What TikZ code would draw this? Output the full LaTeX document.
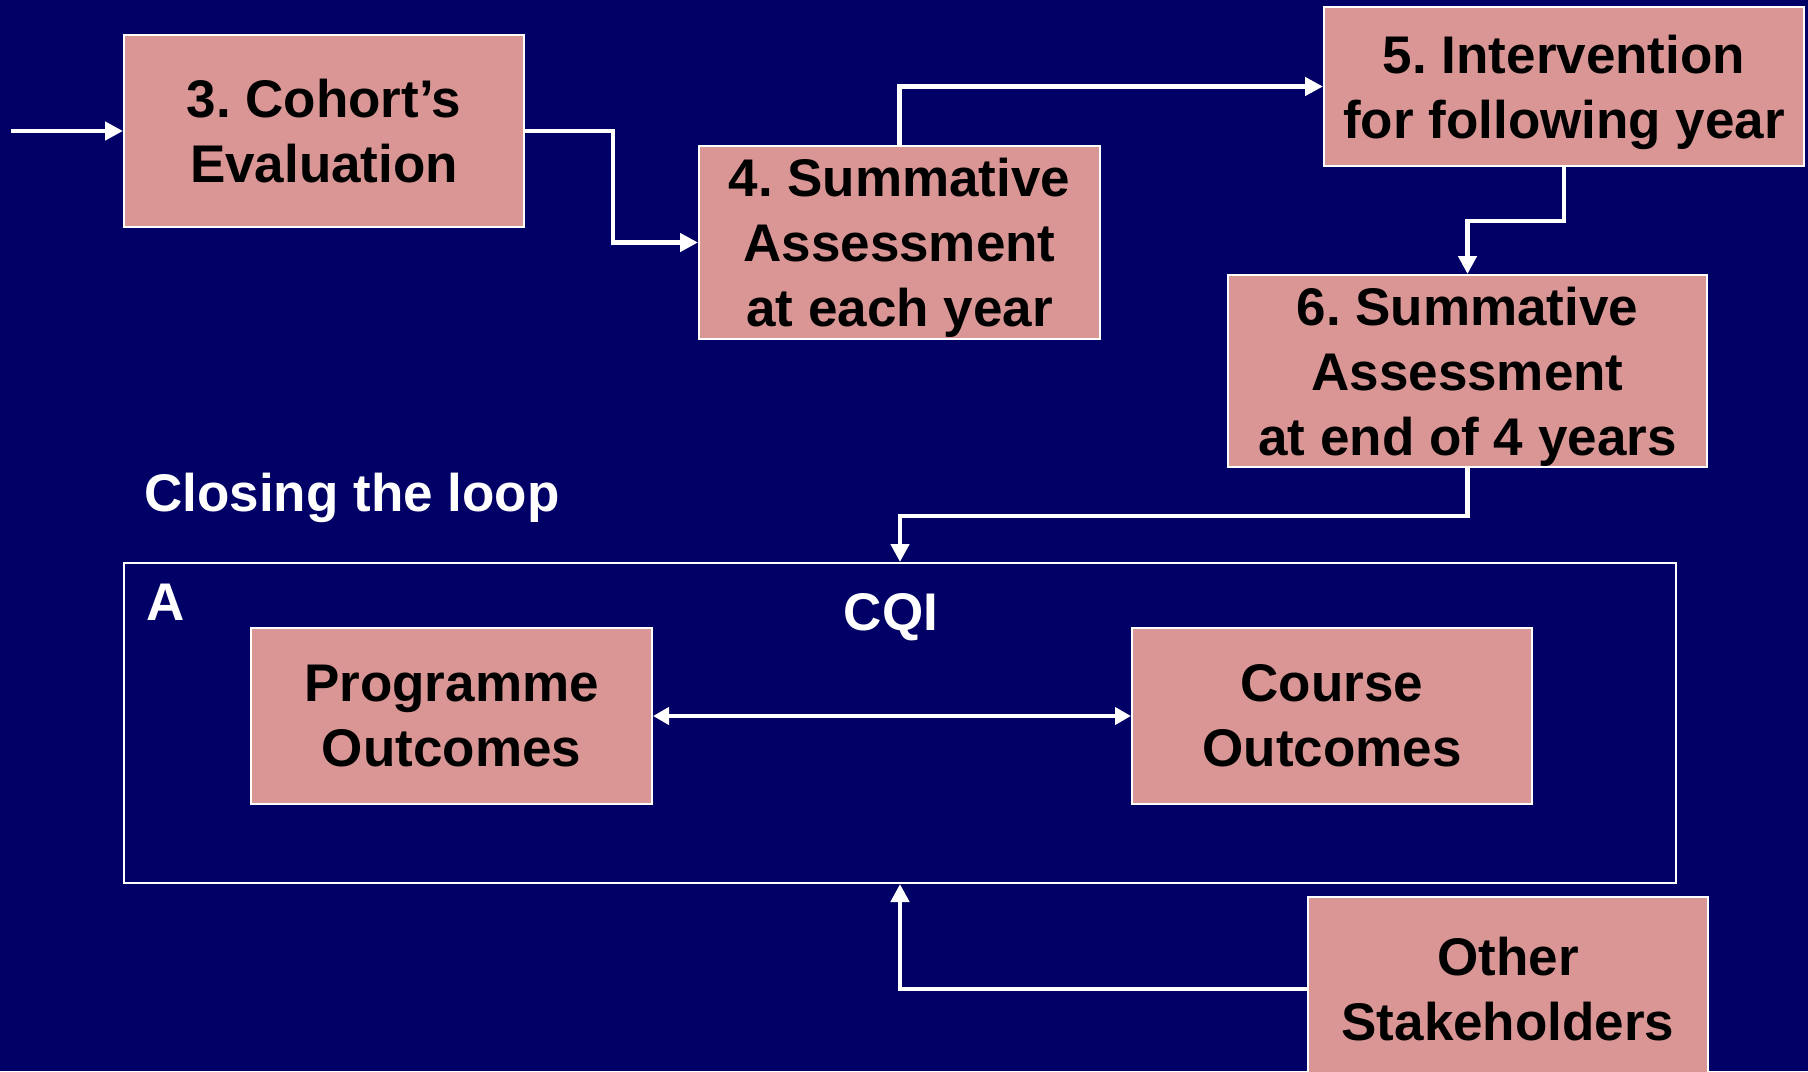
\documentclass[tikz,border=0pt]{standalone}
\usepackage{fontspec}
\setmainfont{Liberation Sans}
\usetikzlibrary{arrows.meta}
\definecolor{bgnavy}{RGB}{0,0,102}
\definecolor{boxrose}{RGB}{217,150,148}
\frenchspacing
\begin{document}
\begin{tikzpicture}[x=0.5pt,y=-0.5pt,
  stage/.style={draw=white, line width=1pt, fill=boxrose, text=black,
    align=center, inner sep=0pt, font=\bfseries\fontsize{26.5}{32.5}\selectfont},
  label/.style={text=white, inner sep=0pt, font=\bfseries\fontsize{26.5}{32.5}\selectfont},
  frame/.style={draw=white, line width=1pt, inner sep=0pt},
  flow/.style={draw=white, line width=2.25pt, -{Triangle[length=9pt,width=9pt]}},
  twoway/.style={draw=white, line width=2.25pt, {Triangle[length=8pt,width=8.5pt]}-{Triangle[length=8pt,width=8.5pt]}}
]
\fill[bgnavy] (0,0) rectangle (1808,1071);
\useasboundingbox (0,0) rectangle (1808,1071);

% upper chain of stages
\node[stage, minimum width=200pt, minimum height=96pt] (b3) at (324,131) {3. Cohort’s\\Evaluation};
\node[stage, minimum width=200.5pt, minimum height=96.5pt, text depth=0pt] (b4) at (899.5,242.5) {4. Summative\\Assessment\\at each year};
\node[stage, minimum width=240pt, minimum height=79.5pt, text depth=0pt] (b5) at (1564,86.5) {5. Intervention\\for following year};
\node[stage, minimum width=239.5pt, minimum height=96pt, text depth=0pt] (b6) at (1467.5,371) {6. Summative\\Assessment\\at end of 4 years};

\node[label, anchor=base west] (loop) at (144,511) {Closing the loop};

% CQI frame with its contents
\node[frame, minimum width=776pt, minimum height=160pt] (cqi) at (900,723) {};
\node[label, anchor=base west] (tagA) at (146,620) {A};
\node[label, anchor=base] (cqititle) at (891,630) {CQI};
\node[stage, minimum width=200.5pt, minimum height=88pt] (po) at (451.5,716) {Programme\\Outcomes};
\node[stage, minimum width=200pt, minimum height=88pt] (co) at (1332,716) {Course\\Outcomes};

\node[stage, minimum width=200pt, minimum height=92pt] (oth) at (1508,989) {Other\\Stakeholders};

% connectors
\coordinate (start) at (11,131);
\draw[flow] (start) -- (b3.west);
\draw[flow] (b3.east) -- ++(88,0) |- (b4.west);
\draw[flow] (b4.north) |- (b5.west);
\draw[flow] (b5.south) -- ++(0,54) -| (b6.north);
\draw[flow] (b6.south) -- ++(0,48) -| (cqi.north);
\draw[twoway] (po.east) -- (co.west);
\draw[flow] (oth.west) -| (cqi.south);
\end{tikzpicture}
\end{document}
